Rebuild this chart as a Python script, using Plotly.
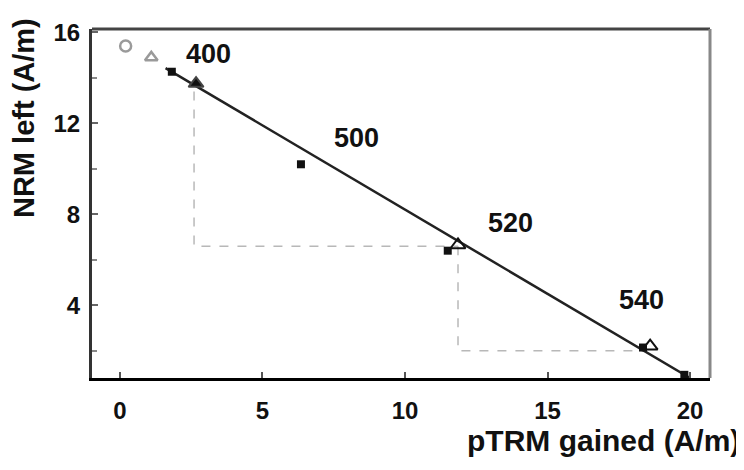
import plotly.graph_objects as go

# NRM-pTRM points (filled squares)
sq_x = [1.82, 6.35, 11.5, 18.35, 19.8]
sq_y = [14.27, 10.2, 6.4, 2.14, 0.94]
# labelled temperature steps (triangles)
tri_x = [2.67, 11.86, 18.6]
tri_y = [13.75, 6.65, 2.2]
tri_filled = [True, False, False]
step_labels = ["400", "500", "520", "540"]
label_x = [3.1, 8.3, 13.7, 18.3]
label_y = [15.05, 11.35, 7.6, 4.25]
# excluded (gray) low-temperature points
gray_x = [0.2, 1.1]
gray_y = [15.4, 14.9]
# best-fit line end points
fit_x = [1.6, 20.0]
fit_y = [14.43, 0.8]
# pTRM check paths
chk1_x = [2.6, 2.6, 11.86]
chk1_y = [13.4, 6.6, 6.6]
chk2_x = [11.86, 11.86, 18.5]
chk2_y = [6.6, 2.0, 2.0]

x_ticks = [0, 5, 10, 15, 20]
y_ticks = [4, 8, 12, 16]
y_minor = [2, 6, 10, 14]

FONT = "Liberation Sans"

fig = go.Figure()
for cx, cy in [(chk1_x, chk1_y), (chk2_x, chk2_y)]:
    fig.add_trace(go.Scatter(x=cx, y=cy, mode="lines",
                             line=dict(color="#b8b8b8", width=1.5, dash="dash"),
                             showlegend=False, hoverinfo="skip"))
fig.add_trace(go.Scatter(x=fit_x, y=fit_y, mode="lines",
                         line=dict(color="#222222", width=2.5), showlegend=False))
fig.add_trace(go.Scatter(x=gray_x, y=gray_y, mode="markers",
                         marker=dict(symbol=["circle-open", "triangle-up-open"], size=11,
                                     color="#9a9a9a", line=dict(width=2.5)),
                         showlegend=False))
fig.add_trace(go.Scatter(x=sq_x, y=sq_y, mode="markers",
                         marker=dict(symbol="square", size=8, color="#111111"),
                         showlegend=False))
fig.add_trace(go.Scatter(x=tri_x, y=tri_y, mode="markers",
                         marker=dict(symbol=["triangle-up" if f else "triangle-up-open" for f in tri_filled],
                                     size=13, color="#111111", line=dict(width=2)),
                         showlegend=False))

for t, lx, ly in zip(step_labels, label_x, label_y):
    fig.add_annotation(x=lx, y=ly, text=t, showarrow=False,
                       font=dict(family=FONT, size=27, color="#111111", weight="bold"))

fig.add_annotation(xref="paper", yref="paper", x=1.052, y=-0.178, xanchor="right", yanchor="middle",
                   text="pTRM gained (A/m)", showarrow=False,
                   font=dict(family=FONT, size=30, color="#111111", weight="bold"))
fig.add_annotation(xref="paper", yref="paper", x=-0.11, y=0.745, xanchor="center", yanchor="middle",
                   text="NRM left (A/m)", textangle=-90, showarrow=False,
                   font=dict(family=FONT, size=29, color="#111111", weight="bold"))

# frame
fig.add_shape(type="line", xref="paper", yref="paper", x0=0, x1=1, y0=1, y1=1,
              line=dict(color="#444444", width=3))
fig.add_shape(type="line", xref="paper", yref="paper", x0=1, x1=1, y0=0, y1=1,
              line=dict(color="#888888", width=3))

fig.update_xaxes(range=[-0.98, 20.7], tickvals=x_ticks, ticktext=[str(v) for v in x_ticks],
                 ticks="inside", ticklen=6, tickwidth=2, tickcolor="#555555",
                 showline=True, linecolor="black", linewidth=3, showgrid=False, zeroline=False,
                 tickfont=dict(family=FONT, size=24, color="#111111", weight="bold"),
                 ticklabelstandoff=9)
fig.update_yaxes(range=[0.8, 16.15], tickvals=y_ticks, ticktext=[str(v) for v in y_ticks],
                 ticks="inside", ticklen=6, tickwidth=2, tickcolor="#666666",
                 minor=dict(tickvals=y_minor, ticks="inside", ticklen=5, tickwidth=2, tickcolor="#888888"),
                 showline=True, linecolor="#333333", linewidth=3, showgrid=False, zeroline=False,
                 tickfont=dict(family=FONT, size=24, color="#111111", weight="bold"),
                 ticklabelstandoff=4)

# page body has an 8px margin, so the figure is sized to fit the 744x470 window
fig.update_layout(width=736, height=462, margin=dict(l=84, r=34, t=11, b=92),
                  paper_bgcolor="white", plot_bgcolor="white")
fig.write_html("out.html")
